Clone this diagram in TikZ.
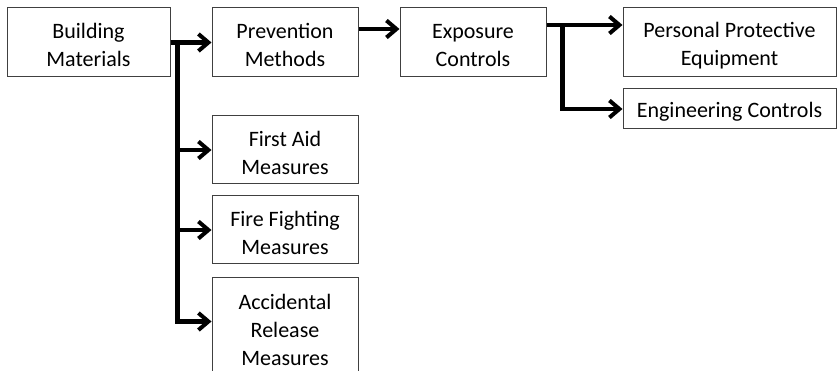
\documentclass[tikz,border=0pt]{standalone}
\usepackage{fontspec}
\setmainfont{Carlito}
\usetikzlibrary{arrows.meta,calc}
\newcommand\topstrut{\rule{0pt}{21pt}}
\begin{document}
\begin{tikzpicture}[x=1pt,y=-1pt,
  box/.style={draw=black!75,line width=1pt,fill=white,inner sep=0pt,align=center,
    font=\fontsize{22}{28}\selectfont,minimum height=69pt},
  conn/.style={line width=4.5pt,line join=miter,
    -{Straight Barb[length=10pt,width=17pt,line width=4pt]}}]
\useasboundingbox (0,0) rectangle (840,371);
\node[box,minimum width=163pt] (bm) at (88.5,42.5) {\topstrut Building\\Materials};
\node[box,minimum width=146pt] (pm) at (285,42.5) {\topstrut Prevention\\Methods};
\node[box,minimum width=146pt] (ec) at (473,42.5) {\topstrut Exposure\\Controls};
\node[box,minimum width=213pt] (ppe) at (729.5,42.5) {\topstrut Personal Protective\\Equipment};
\node[box,minimum width=213pt,minimum height=40pt] (eng) at (729.5,109) {\topstrut Engineering Controls};
\node[box,minimum width=146pt,minimum height=68pt] (fa) at (285,150) {\topstrut First Aid\\Measures};
\node[box,minimum width=146pt,minimum height=68pt] (ff) at (285,230) {\topstrut Fire Fighting\\Measures};
\node[box,minimum width=146pt,minimum height=100pt] (ar) at (285,327) {\topstrut Accidental\\Release\\Measures};
% connectors
\coordinate (j1) at ($(bm.east)+(7,0)$);
\coordinate (arin) at ($(ar.north west)+(0,45)$);
\draw[conn] (bm.east) -- (pm.west);
\draw[conn] (j1) |- (fa.west);
\draw[conn] (j1) |- (ff.west);
\draw[conn] (j1) |- (arin);
\draw[conn] ([yshift=13.5pt]pm.east) -- ([yshift=13.5pt]ec.west);
\coordinate (j2) at ($(ec.east)+(16,-17.5)$);
\draw[conn] ([yshift=17.5pt]ec.east) -- ([yshift=17.5pt]ppe.west);
\draw[conn] (j2) |- (eng.west);
\end{tikzpicture}
\end{document}
